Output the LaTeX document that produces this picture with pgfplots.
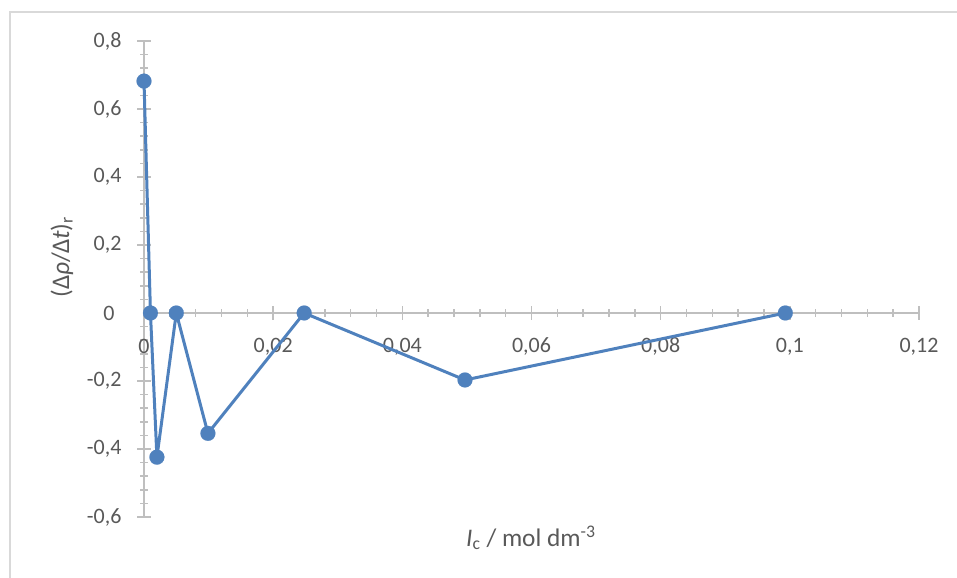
\documentclass[border=0pt]{standalone}
\usepackage{fontspec}
\setmainfont{Carlito}
\usepackage{pgfplots}
\pgfplotsset{compat=1.18}
\definecolor{txt}{RGB}{89,89,89}
\definecolor{axl}{RGB}{191,191,191}
\definecolor{ser}{RGB}{79,129,189}
\definecolor{frm}{RGB}{217,217,217}
\begin{document}
\fontsize{16.5}{19.8}\selectfont
\begin{tikzpicture}
\useasboundingbox (0,0) rectangle (717.75pt,433.5pt);
\draw[frm, line width=1.1pt] (7.5pt,0) -- (7.5pt,424.5pt) -- (717.75pt,424.5pt);
\begin{axis}[
 at={(108pt,45.75pt)}, anchor=south west,
 scale only axis, width=581.25pt, height=357pt,
 xmin=0, xmax=0.12, ymin=-0.6, ymax=0.8,
 axis lines=middle, axis line style={axl, line width=1.1pt, -},
 xtick={0,0.02,0.04,0.06,0.08,0.1,0.12},
 ytick={-0.6,-0.4,-0.2,0,0.2,0.4,0.6,0.8},
 xticklabels={0,{0,02},{0,04},{0,06},{0,08},{0,1},{0,12}},
 yticklabels={{-0,6},{-0,4},{-0,2},0,{0,2},{0,4},{0,6},{0,8}},
 minor x tick num=4, minor y tick num=4,
 tick align=center, major tick length=10.5pt, minor tick length=6pt,
 every tick/.style={axl, line width=1.1pt},
 minor tick style={axl, line width=1.1pt},
 major tick style={axl, line width=1.1pt},
 scaled ticks=false,
 tick label style={font=\fontsize{16.5}{19.8}\selectfont, text=txt},
 xticklabel style={anchor=center, yshift=-20pt},
 yticklabel style={anchor=east, xshift=-6pt},
 clip=false,
]
\addplot[ser, line width=2.25pt, line join=round, mark=*, mark size=5.6pt,
  mark options={fill=ser, draw=ser, line width=0.1pt}]
  coordinates {(0,0.682) (0.001,0) (0.002,-0.424) (0.005,0) (0.0099,-0.354) (0.0248,0) (0.0497,-0.197) (0.0993,0)};
\node[text=txt, font=\fontsize{16.5}{19.8}\selectfont, anchor=east] at (axis cs:0,0) [xshift=-16.5pt] {0};
\node[text=txt, font=\fontsize{16.5}{19.8}\selectfont, anchor=center] at (axis cs:0,0) [yshift=-25pt] {0};
\end{axis}
\node[rotate=90, text=txt, font=\fontsize{19}{22}\selectfont] at (46.5pt,240.75pt) {(Δ\textit{ρ}/Δ\textit{t})\textsubscript{r}};
\node[text=txt, font=\fontsize{19}{22}\selectfont] at (398.25pt,30pt) {\textit{I}\textsubscript{c} / mol dm\textsuperscript{-3}};
\end{tikzpicture}
\end{document}
